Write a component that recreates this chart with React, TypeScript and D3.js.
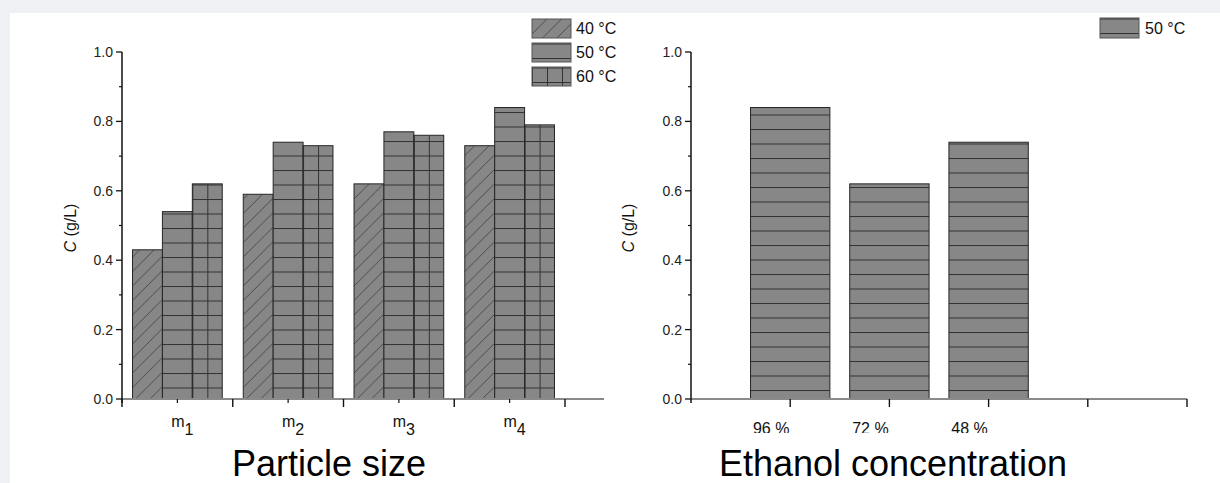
import * as d3 from "d3";

// particle size panel
const sizeSubs = ["1", "2", "3", "4"];
const tempNames = ["40 °C", "50 °C", "60 °C"];
const c40 = [0.43, 0.59, 0.62, 0.73];
const c50 = [0.54, 0.74, 0.77, 0.84];
const c60 = [0.62, 0.73, 0.76, 0.79];

// ethanol panel
const ethanolLabels = ["96 %", "72 %", "48 %"];
const ethanolC = [0.84, 0.62, 0.74];

const yTicks = [0, 0.2, 0.4, 0.6, 0.8, 1.0];
const yMinor = [0.1, 0.3, 0.5, 0.7, 0.9];

const W = 1220, H = 483;
const FONT = "'Liberation Sans', Arial, sans-serif";
const FILL = "#878787";
const EDGE = "#262626";
const LINE = "#333";

const y = d3.scaleLinear().domain([0, 1]).range([399, 52]);
const xL = d3.scaleLinear().domain([0.5, 4.5]).range([122, 565]);
const xR = d3.scaleLinear().domain([0, 5]).range([691, 1187]);

const bw = 0.27; // bar width in category units, left panel

const PatternDefs = ({ id, kind, x0, y0 }) => {
  if (kind === 0) {
    return (
      <pattern id={id} patternUnits="userSpaceOnUse" x={x0} y={y0} width={14.5} height={14.5}>
        <rect width={14.5} height={14.5} fill={FILL} />
        <line x1={0} y1={14.5} x2={14.5} y2={0} stroke="#444" strokeWidth={0.9} />
      </pattern>
    );
  }
  if (kind === 1) {
    return (
      <pattern id={id} patternUnits="userSpaceOnUse" x={x0} y={y0} width={20} height={14.5}>
        <rect width={20} height={14.5} fill={FILL} />
        <line x1={0} y1={0.5} x2={20} y2={0.5} stroke={LINE} strokeWidth={1} />
      </pattern>
    );
  }
  return (
    <pattern id={id} patternUnits="userSpaceOnUse" x={x0} y={y0} width={15} height={14.5}>
      <rect width={15} height={14.5} fill={FILL} />
      <line x1={0} y1={0.5} x2={15} y2={0.5} stroke={LINE} strokeWidth={1} />
      <line x1={0.5} y1={0} x2={0.5} y2={14.5} stroke={LINE} strokeWidth={1} />
    </pattern>
  );
};

const YAxis = ({ x0, labelX }) => (
  <g fontFamily={FONT}>
    <line x1={x0} x2={x0} y1={y(1)} y2={y(0) + 4} stroke="#111" strokeWidth={1.5} />
    {yTicks.map((t) => (
      <g key={t}>
        <line x1={x0 - 6} x2={x0} y1={y(t)} y2={y(t)} stroke="#111" strokeWidth={1.3} />
        <text x={x0 - 9} y={y(t) + 5} textAnchor="end" fontSize={14} fill="#222">
          {t.toFixed(1)}
        </text>
      </g>
    ))}
    {yMinor.map((t) => (
      <line key={t} x1={x0 - 3} x2={x0} y1={y(t)} y2={y(t)} stroke="#111" strokeWidth={1.2} />
    ))}
    <text
      transform={`translate(${labelX},${228}) rotate(-90)`}
      textAnchor="middle"
      fontSize={16}
      fill="#111"
    >
      <tspan fontStyle="italic">C</tspan> (g/L)
    </text>
  </g>
);

const App = () => {
  const series = [c40, c50, c60];
  const leftBars = [];
  series.forEach((vals, s) => {
    vals.forEach((v, i) => {
      const cx = i + 1;
      const x0 = xL(cx - 1.5 * bw + s * bw);
      const x1 = xL(cx - 1.5 * bw + (s + 1) * bw);
      leftBars.push({ s, i, x: x0, w: x1 - x0, top: y(v) });
    });
  });
  const rightBars = ethanolC.map((v, i) => {
    const x0 = xR(i + 1 - 0.4);
    const x1 = xR(i + 1 + 0.4);
    return { i, x: x0, w: x1 - x0, top: y(v) };
  });

  const legendL = tempNames.map((n, s) => ({ n, s, x: 532, y: 19 + s * 24 }));

  return (
    <svg width={W} height={H} style={{ position: "absolute", left: 0, top: 0 }}>
      <defs>
        {leftBars.map((b) => (
          <PatternDefs key={`pl${b.s}-${b.i}`} id={`pl${b.s}-${b.i}`} kind={b.s} x0={b.x} y0={399 - 11.5 - 14.5 * 30} />
        ))}
        {rightBars.map((b) => (
          <PatternDefs key={`pr${b.i}`} id={`pr${b.i}`} kind={1} x0={b.x} y0={399 - 9 - 14.5 * 30} />
        ))}
        {legendL.map((l) => (
          <PatternDefs key={`lg${l.s}`} id={`lg${l.s}`} kind={l.s} x0={l.x} y0={l.y + 15} />
        ))}
        <PatternDefs id="lgR" kind={1} x0={1100} y0={18 + 15} />
        <clipPath id="lblClip">
          <rect x={680} y={0} width={540} height={433} />
        </clipPath>
      </defs>

      <rect width={W} height={H} fill="#eef0f4" />
      <rect x={10} y={13} width={W - 10} height={H - 13} fill="#fff" />

      {/* left panel */}
      {leftBars.map((b) => (
        <rect
          key={`l${b.s}-${b.i}`}
          x={b.x}
          y={b.top}
          width={b.w}
          height={y(0) - b.top}
          fill={`url(#pl${b.s}-${b.i})`}
          stroke={EDGE}
          strokeWidth={1}
        />
      ))}
      <line x1={xL(0.5)} x2={604} y1={y(0)} y2={y(0)} stroke="#8a8a8a" strokeWidth={2} />
      {[0.5, 1.5, 2.5, 3.5, 4.5].map((t) => (
        <line key={t} x1={xL(t)} x2={xL(t)} y1={y(0)} y2={y(0) + 8} stroke="#111" strokeWidth={1.4} />
      ))}
      {[1, 2, 3, 4].map((t) => (
        <line key={t} x1={xL(t)} x2={xL(t)} y1={y(0)} y2={y(0) + 4} stroke="#111" strokeWidth={1.2} />
      ))}
      <YAxis x0={122} labelX={76} />
      {sizeSubs.map((s, i) => (
        <text key={s} x={xL(i + 1) + 5} y={427} textAnchor="middle" fontFamily={FONT} fontSize={16} fill="#111">
          m<tspan dy={8}>{s}</tspan>
        </text>
      ))}
      <text x={329} y={476} textAnchor="middle" fontFamily={FONT} fontSize={36} fill="#000">
        Particle size
      </text>
      {legendL.map((l) => (
        <g key={l.n}>
          <rect x={l.x} y={l.y} width={39} height={19} fill={`url(#lg${l.s})`} stroke="#555" strokeWidth={1} />
          <text x={l.x + 44} y={l.y + 15} fontFamily={FONT} fontSize={16} fill="#111">
            {l.n}
          </text>
        </g>
      ))}

      {/* right panel */}
      {rightBars.map((b) => (
        <rect
          key={`r${b.i}`}
          x={b.x}
          y={b.top}
          width={b.w}
          height={y(0) - b.top}
          fill={`url(#pr${b.i})`}
          stroke={EDGE}
          strokeWidth={1}
        />
      ))}
      <line x1={xR(0)} x2={xR(5)} y1={y(0)} y2={y(0)} stroke="#8a8a8a" strokeWidth={2} />
      {[1, 2, 3, 4, 5].map((t) => (
        <line key={t} x1={xR(t)} x2={xR(t)} y1={y(0)} y2={y(0) + 8} stroke="#111" strokeWidth={1.4} />
      ))}
      <YAxis x0={691} labelX={634} />
      <g clipPath="url(#lblClip)">
        {ethanolLabels.map((l, i) => (
          <text key={l} x={xR(i + 1) - 19} y={434} textAnchor="middle" fontFamily={FONT} fontSize={16} fill="#111">
            {l}
          </text>
        ))}
      </g>
      <text x={893} y={476} textAnchor="middle" fontFamily={FONT} fontSize={36} fill="#000">
        Ethanol concentration
      </text>
      <rect x={1100} y={18} width={39} height={20} fill="url(#lgR)" stroke="#555" strokeWidth={1} />
      <text x={1145} y={34} fontFamily={FONT} fontSize={16} fill="#111">
        50 °C
      </text>
    </svg>
  );
};

export default App;
